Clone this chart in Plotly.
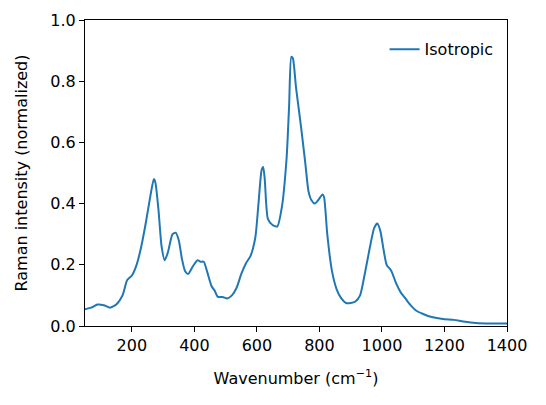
import plotly.graph_objects as go

wavenumber = [50, 70, 90, 110, 130, 150, 170, 185, 200, 215, 230, 245, 260, 270, 275, 285, 295, 305, 315,
              330, 340, 350, 360, 370, 380, 395, 410, 420, 430, 440, 455, 465, 475, 490, 505, 520, 535,
              550, 565, 580, 595, 605, 615, 620, 625, 635, 650, 665, 680, 695, 703, 710, 715, 725, 740,
              755, 765, 775, 785, 795, 810, 815, 825, 840, 855, 870, 885, 900, 915, 930, 945, 960, 975,
              985, 995, 1005, 1015, 1030, 1045, 1060, 1075, 1090, 1110, 1130, 1150, 1180, 1200, 1230,
              1260, 1300, 1350, 1400]
intensity = [0.055, 0.06, 0.07, 0.068, 0.06, 0.07, 0.1, 0.15, 0.165, 0.2, 0.26, 0.34, 0.43, 0.48, 0.47,
             0.38, 0.26, 0.215, 0.24, 0.3, 0.305, 0.28, 0.22, 0.18, 0.17, 0.195, 0.215, 0.21, 0.21, 0.18,
             0.13, 0.115, 0.095, 0.095, 0.09, 0.1, 0.125, 0.17, 0.205, 0.23, 0.29, 0.4, 0.51, 0.52, 0.48,
             0.35, 0.33, 0.325, 0.39, 0.55, 0.72, 0.88, 0.875, 0.78, 0.66, 0.53, 0.44, 0.41, 0.4, 0.41,
             0.43, 0.42, 0.3, 0.18, 0.12, 0.09, 0.075, 0.075, 0.08, 0.1, 0.17, 0.25, 0.32, 0.335, 0.31,
             0.25, 0.2, 0.18, 0.14, 0.11, 0.09, 0.07, 0.05, 0.04, 0.032, 0.025, 0.022, 0.02, 0.015, 0.01,
             0.008, 0.008]

fig = go.Figure(go.Scatter(x=wavenumber, y=intensity, mode="lines", name="Isotropic",
                           line=dict(color="#1f77b4", width=2, shape="spline", smoothing=0.6)))

font = dict(family="DejaVu Sans", size=16, color="black")
axis_style = dict(showline=True, linecolor="black", linewidth=1, mirror=True, ticks="outside",
                  ticklen=5, tickcolor="black", showgrid=False, zeroline=False,
                  tickfont=font, title_font=font, automargin=False)
fig.update_xaxes(range=[50, 1400], tickvals=[200, 400, 600, 800, 1000, 1200, 1400],
                 title_text="Wavenumber (cm<sup>−1</sup>)", title_standoff=18, **axis_style)
fig.update_yaxes(range=[0, 1], dtick=0.2, tickformat=".1f",
                 title_text="Raman intensity (normalized)", title_standoff=18, **axis_style)

fig.update_layout(
    width=546, height=405, template="simple_white",
    margin=dict(l=77, r=47, t=12, b=87),
    font=font,
    showlegend=True,
    legend=dict(x=0.98, y=0.96, xanchor="right", yanchor="top", bgcolor="rgba(0,0,0,0)", font=font),
)
fig.write_html("out.html")
